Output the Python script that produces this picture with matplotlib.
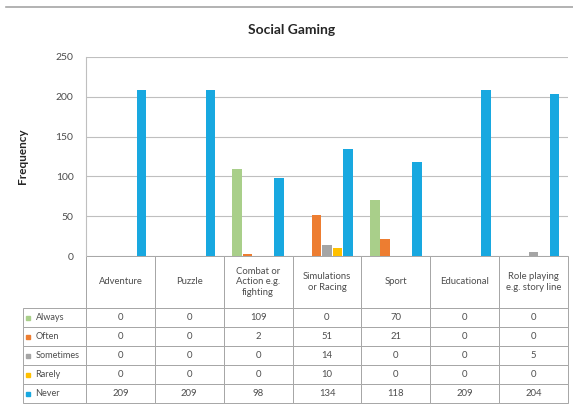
import numpy as np
import matplotlib
matplotlib.use('Agg')
import matplotlib.pyplot as plt
from matplotlib.lines import Line2D

plt.rcParams['font.family'] = ['Lato', 'DejaVu Sans']

categories = ['Adventure', 'Puzzle', 'Combat or\nAction e.g.\nfighting', 'Simulations\nor Racing',
              'Sport', 'Educational', 'Role playing\ne.g. story line']
series = ['Always', 'Often', 'Sometimes', 'Rarely', 'Never']
always = [0, 0, 109, 0, 70, 0, 0]
often = [0, 0, 2, 51, 21, 0, 0]
sometimes = [0, 0, 0, 14, 0, 0, 5]
rarely = [0, 0, 0, 10, 0, 0, 0]
never = [209, 209, 98, 134, 118, 209, 204]
colors = ['#A9CF8A', '#ED7D31', '#A5A5A5', '#FFC000', '#18A8E0']
yticks = [0, 50, 100, 150, 200, 250]

data = [always, often, sometimes, rarely, never]
text_col = '#4D4D4D'
grid_col = '#BFBFBF'

W, H = 573, 407
fig = plt.figure(figsize=(W / 100, H / 100), dpi=100)
ax = fig.add_axes([86 / W, 1 - 256 / H, 482 / W, 199 / H])

x = np.arange(len(categories))
bw = 0.153
for i, (vals, c) in enumerate(zip(data, colors)):
    ax.bar(x + (i - 2) * bw, vals, bw * 0.92, color=c, zorder=3)

ax.set_xlim(-0.5, len(categories) - 0.5)
ax.set_ylim(0, 250)
ax.set_yticks(yticks)
ax.set_xticks([])
ax.tick_params(axis='y', labelsize=7.5, colors=text_col, length=0, pad=9)
ax.grid(True, axis='y', color=grid_col, linewidth=0.8, zorder=0)
for s in ['top', 'right', 'bottom']:
    ax.spines[s].set_visible(False)
ax.spines['left'].set_color(grid_col)
ax.set_ylabel('Frequency', fontsize=8.5, fontweight='bold', color='#262626')
ax.yaxis.set_label_coords(-0.12, 0.5)

# data table under the plot
label_w = 63 / 482
head_h = 52
row_h = 19
cell_text = [[name] + [str(v) for v in vals] for name, vals in zip(series, data)]
tbl_h = (head_h + row_h * len(series)) / 199
tbl = ax.table(cellText=cell_text, colLabels=[''] + categories,
               colWidths=[label_w] + [1 / len(categories)] * len(categories),
               cellLoc='center', bbox=[-label_w, -tbl_h, 1 + label_w, tbl_h])
tbl.auto_set_font_size(False)
for (r, c), cell in tbl.get_celld().items():
    cell.set_height(head_h if r == 0 else row_h)
    cell.set_edgecolor('#A6A6A6')
    cell.set_linewidth(0.7)
    cell.get_text().set_fontsize(6.8)
    cell.get_text().set_color(text_col)
    if c == 0:
        cell.set_text_props(ha='left')
        cell.PAD = 0.2
        cell.get_text().set_fontsize(6.6)
tbl[0, 0].visible_edges = 'R'

# colour keys in front of the row labels
for i, c in enumerate(colors):
    yc = -(head_h + row_h * (i + 0.5)) / 199
    ax.plot([-label_w + 0.010], [yc], marker='s', markersize=3, color=c,
            transform=ax.transAxes, clip_on=False)

fig.text(292 / W, 1 - 30 / H, 'Social Gaming', ha='center', va='center',
         fontsize=10, fontweight='bold', color='#262626')
fig.add_artist(Line2D([6 / W, 1], [1 - 7 / H, 1 - 7 / H], color='#A6A6A6', linewidth=1.2,
                      transform=fig.transFigure))

fig.savefig('out.png', dpi=100)
